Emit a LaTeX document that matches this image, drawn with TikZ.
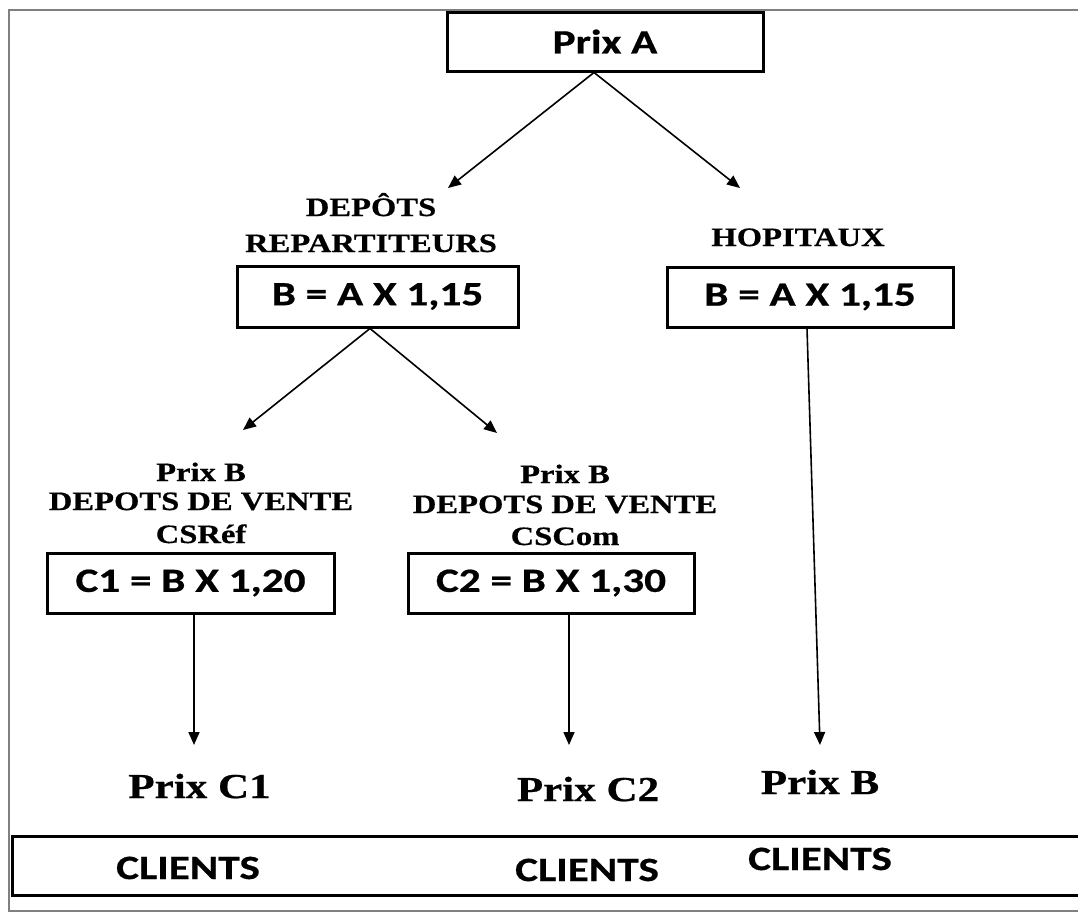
\documentclass[tikz,border=0pt]{standalone}
\usepackage{fontspec}
\usepackage{tikz}
\usetikzlibrary{arrows.meta,positioning}
\newfontfamily\boxfont{Carlito}[FakeStretch=1.27,FakeBold=0.6]
\newfontfamily\labelfont{Liberation Serif}[FakeStretch=1.23,FakeBold=0.6]
\tikzstyle{box} = [rectangle, draw, line width=3pt, inner sep=0pt,
    font=\boxfont\bfseries\fontsize{34}{40}\selectfont]
\tikzstyle{lbl} = [anchor=base, inner sep=0pt,
    font=\labelfont\bfseries\fontsize{26.5}{30}\selectfont]
\tikzstyle{prix} = [anchor=base, inner sep=0pt,
    font=\labelfont\bfseries\fontsize{35}{40}\selectfont]
\tikzstyle{client} = [anchor=base, inner sep=0pt,
    font=\boxfont\bfseries\fontsize{34}{40}\selectfont]
\tikzstyle{arrow} = [line width=1.6pt, -{Triangle[length=13pt,width=11pt]}]

\begin{document}
\begin{tikzpicture}[x=1pt, y=-1pt]
\useasboundingbox (0,0) rectangle (1078,913);
\draw[line width=2.2pt, black!50] (1090,10) -- (9,10) -- (9,911) -- (1090,911);
\node[box, minimum width=316pt, minimum height=59pt] (prixA) at (605,41.5) {Prix A};
\node[lbl] (dep1) at (371,216) {DEPÔTS};
\node[lbl] (dep2) at (371,252) {REPARTITEURS};
\node[lbl] (hop) at (798,246) {HOPITAUX};
\node[box, minimum width=281pt, minimum height=61pt] (boxBL) at (377.5,296.5) {B = A X 1,15};
\node[box, minimum width=286pt, minimum height=60pt] (boxBR) at (810,297) {B = A X 1,15};
\node[lbl] (ref1) at (201,481) {Prix B};
\node[lbl] (ref2) at (201,510) {DEPOTS DE VENTE};
\node[lbl] (ref3) at (201,543) {CSRéf};
\node[lbl] (com1) at (565,483) {Prix B};
\node[lbl] (com2) at (565,513) {DEPOTS DE VENTE};
\node[lbl] (com3) at (565,545) {CSCom};
\node[box, minimum width=287pt, minimum height=60pt] (boxC1) at (190.5,583) {C1 = B X 1,20};
\node[box, minimum width=286pt, minimum height=60pt] (boxC2) at (551,583) {C2 = B X 1,30};
\node[prix] (pC1) at (199.5,798) {Prix C1};
\node[prix] (pC2) at (588,801) {Prix C2};
\node[prix] (pB) at (820,794) {Prix B};
\draw[line width=3pt] (1090,836) -- (12,836) -- (12,895) -- (1090,895);
\node[client] (cl1) at (188,879) {CLIENTS};
\node[client] (cl2) at (587,881) {CLIENTS};
\node[client] (cl3) at (820,870) {CLIENTS};
\coordinate (tipDep) at (448,188);
\coordinate (tipHop) at (740,188);
\coordinate (tipRef) at (243,430);
\coordinate (tipCom) at (497,433);
\coordinate (tipC1) at (194,745);
\coordinate (tipC2) at (569,745);
\coordinate (tipB) at (820,745);
\draw[arrow] ([xshift=-11pt]prixA.south) -- (tipDep);
\draw[arrow] ([xshift=-11pt]prixA.south) -- (tipHop);
\draw[arrow] ([xshift=-7.5pt]boxBL.south) -- (tipRef);
\draw[arrow] ([xshift=-7.5pt]boxBL.south) -- (tipCom);
\draw[arrow] ([xshift=3.5pt]boxC1.south) -- (tipC1);
\draw[arrow] ([xshift=18pt]boxC2.south) -- (tipC2);
\draw[arrow] ([xshift=-3pt]boxBR.south) -- (tipB);
\end{tikzpicture}
\end{document}
